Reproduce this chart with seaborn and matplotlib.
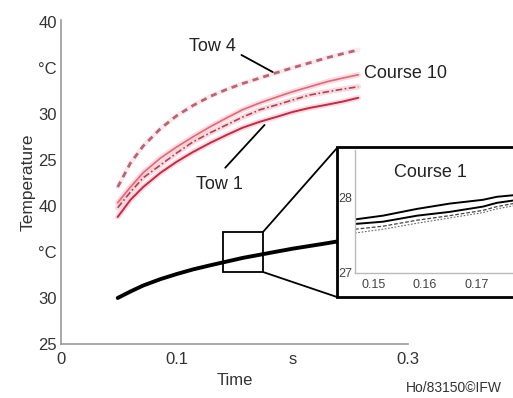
import numpy as np
import pandas as pd
import matplotlib
matplotlib.use("Agg")
import matplotlib.pyplot as plt
from matplotlib.patches import Rectangle
import seaborn as sns

sns.set_theme(style="white")
plt.rcParams['font.family'] = ['Liberation Sans', 'DejaVu Sans']

# ---- data (y in axis tick units: 0 = bottom tick, 7 = top tick) ----
time = [0.049, 0.060, 0.071, 0.086, 0.100, 0.114, 0.129, 0.143,
        0.157, 0.172, 0.187, 0.200, 0.215, 0.230, 0.244, 0.257]
tow4 = [3.41, 3.93, 4.30, 4.68, 4.96, 5.18, 5.38, 5.53,
        5.66, 5.78, 5.90, 6.00, 6.11, 6.22, 6.31, 6.39]
course10 = [3.07, 3.41, 3.72, 4.04, 4.28, 4.50, 4.72, 4.91,
            5.09, 5.24, 5.37, 5.48, 5.59, 5.70, 5.78, 5.85]
mid_red = [2.96, 3.30, 3.61, 3.89, 4.15, 4.39, 4.59, 4.76,
           4.93, 5.09, 5.20, 5.30, 5.41, 5.48, 5.54, 5.59]
tow1 = [2.76, 3.13, 3.41, 3.72, 3.96, 4.17, 4.37, 4.54,
        4.70, 4.83, 4.94, 5.04, 5.13, 5.20, 5.27, 5.35]
course1 = [1.00, 1.14, 1.27, 1.41, 1.52, 1.62, 1.71, 1.79,
           1.87, 1.94, 2.01, 2.07, 2.13, 2.19, 2.25, 2.30]

y_ticks = [0, 1, 2, 3, 4, 5, 6, 7]
y_labels = ["25", "30", "°C", "40", "25", "30", "°C", "40"]
x_ticks = [0, 0.1, 0.2, 0.3]
x_labels = ["0", "0.1", "s", "0.3"]

# inset (Course 1 zoom)
in_time = [0.1465, 0.1519, 0.1585, 0.1648, 0.1712, 0.1739, 0.1770]
in_upper = [27.71, 27.76, 27.85, 27.92, 27.97, 28.01, 28.03]
in_lower = [27.65, 27.68, 27.76, 27.81, 27.88, 27.93, 27.96]
in_dash1 = [27.58, 27.62, 27.70, 27.76, 27.83, 27.88, 27.92]
in_dash2 = [27.53, 27.58, 27.66, 27.73, 27.80, 27.85, 27.89]

W, H = 513, 398
fig = plt.figure(figsize=(W / 100, H / 100), dpi=100)
fig.patch.set_facecolor("white")

def fx(px):
    return px / W

def fy(py):
    return 1 - py / H

ax = fig.add_axes([fx(61), fy(344), fx(408) - fx(61), fy(20) - fy(344)])
ax.set_facecolor("white")

grey = "#9a9a9a"
txt = "#333333"

# red curves with soft pink halo
for ys in [course10, mid_red, tow1]:
    sns.lineplot(x=time, y=ys, ax=ax, color="#f4b8c0", lw=4.0, alpha=0.5, legend=False)
sns.lineplot(x=time, y=tow4, ax=ax, color="#f4c4cc", lw=3.5, alpha=0.35, legend=False)
sns.lineplot(x=time, y=tow4, ax=ax, color="#b86478", lw=2.0, legend=False,
             linestyle=(0, (2.2, 1.8)))
sns.lineplot(x=time, y=course10, ax=ax, color="#e06878", lw=1.2, legend=False)
sns.lineplot(x=time, y=mid_red, ax=ax, color="#b04058", lw=1.2, legend=False,
             linestyle=(0, (4, 1.5, 1, 1.5)))
sns.lineplot(x=time, y=tow1, ax=ax, color="#c82848", lw=1.4, legend=False)

# black curve (Course 1)
sns.lineplot(x=time, y=course1, ax=ax, color="black", lw=2.8, legend=False)

ax.set_xlim(0, 0.3)
ax.set_ylim(0, 7.04)
ax.set_xticks(x_ticks)
ax.set_xticklabels(x_labels)
ax.set_yticks(y_ticks)
ax.set_yticklabels(y_labels)
for s in ["top", "right"]:
    ax.spines[s].set_visible(False)
for s in ["left", "bottom"]:
    ax.spines[s].set_color(grey)
    ax.spines[s].set_linewidth(1.2)
ax.tick_params(axis="both", direction="in", length=3, color=grey, labelsize=12,
               labelcolor=txt, pad=3)
ax.tick_params(axis="x", pad=6)
ax.set_xlabel("Time", fontsize=12, color=txt, labelpad=4)
ax.set_ylabel("Temperature", fontsize=12.5, color=txt, labelpad=2)

# annotations
ax.text(0.131, 6.46, "Tow 4", fontsize=13, color="#222222", va="center", ha="center")
ax.plot([0.156, 0.183], [6.28, 5.91], color="black", lw=1.3)
ax.text(0.262, 5.88, "Course 10", fontsize=13, color="#222222", va="center", ha="left")
ax.text(0.137, 3.46, "Tow 1", fontsize=13, color="#222222", va="center", ha="center")
ax.plot([0.142, 0.176], [3.83, 4.76], color="black", lw=1.3)

# zoom rectangle on main axes
ax.add_patch(Rectangle((0.140, 1.56), 0.0346, 0.87, fill=False, edgecolor="black", lw=1.3))

# connector lines (figure coords)
fig.add_artist(plt.Line2D([fx(263), fx(337)], [fy(232), fy(148)], color="black", lw=1.3))
fig.add_artist(plt.Line2D([fx(263), fx(337)], [fy(272), fy(297)], color="black", lw=1.3))

# inset frame box
box = Rectangle((fx(337), fy(297)), fx(530) - fx(337), fy(147) - fy(297),
                transform=fig.transFigure, facecolor="white", edgecolor="black", lw=2.0,
                zorder=5)
fig.add_artist(box)

iax = fig.add_axes([fx(355), fy(273), fx(513) - fx(355), fy(150) - fy(273)], zorder=6)
iax.set_facecolor("white")
sns.lineplot(x=in_time, y=in_upper, ax=iax, color="black", lw=1.4, legend=False)
sns.lineplot(x=in_time, y=in_lower, ax=iax, color="black", lw=1.4, legend=False)
sns.lineplot(x=in_time, y=in_dash1, ax=iax, color="#444444", lw=0.9, legend=False,
             linestyle=(0, (3, 1.5)))
sns.lineplot(x=in_time, y=in_dash2, ax=iax, color="#666666", lw=0.8, legend=False,
             linestyle=(0, (1.5, 1.5)))
iax.set_xlim(0.1465, 0.177)
iax.set_ylim(27, 28.63)
iax.set_xticks([0.15, 0.16, 0.17])
iax.set_xticklabels(["0.15", "0.16", "0.17"])
iax.set_yticks([27, 28])
iax.set_yticklabels(["27", "28"])
for s in ["top", "right"]:
    iax.spines[s].set_visible(False)
for s in ["left", "bottom"]:
    iax.spines[s].set_color("#bbbbbb")
    iax.spines[s].set_linewidth(1.0)
iax.tick_params(axis="both", direction="in", length=2, color="#bbbbbb", labelsize=9,
                labelcolor="#444444", pad=2)
iax.tick_params(axis="x", pad=4)
iax.text(0.161, 28.33, "Course 1", fontsize=13, color="#222222", ha="center", va="center")

fig.text(fx(454), fy(388), "Ho/83150©IFW", fontsize=10, color="#333333",
         ha="center", va="center")

fig.savefig("out.png", dpi=100, facecolor="white")
